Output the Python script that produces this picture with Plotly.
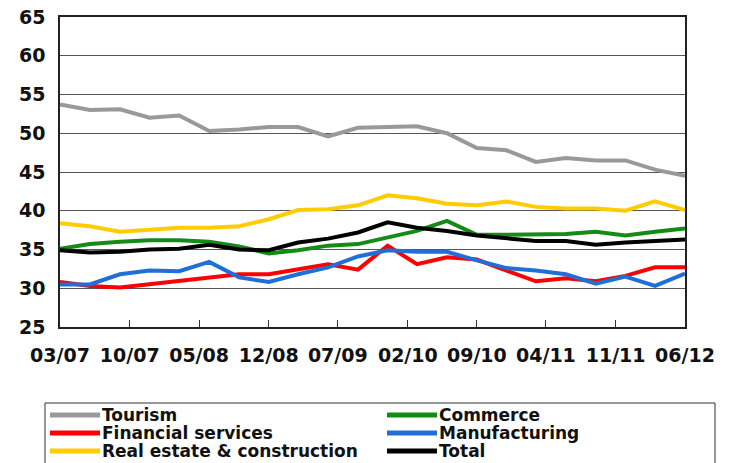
"""
Sector indicator chart, quarterly from 03/07 to 06/12.
"""

import pandas as pd
import plotly.graph_objects as go

dates = pd.date_range("2007-03-01", "2012-06-01", freq="3MS")

tourism = [53.7, 53.0, 53.1, 52.0, 52.3, 50.3, 50.5, 50.8, 50.8, 49.6, 50.7,
           50.8, 50.9, 50.0, 48.1, 47.8, 46.3, 46.8, 46.5, 46.5, 45.3, 44.5]
commerce = [35.1, 35.7, 36.0, 36.2, 36.2, 36.0, 35.4, 34.5, 34.9, 35.5, 35.7,
            36.6, 37.4, 38.7, 36.9, 36.9, 37.0, 37.0, 37.3, 36.8, 37.3, 37.7]
financial = [30.8, 30.3, 30.1, 30.5, 30.9, 31.4, 31.8, 31.8, 32.4, 33.1, 32.4,
             35.5, 33.1, 34.0, 33.7, 32.3, 30.9, 31.3, 30.9, 31.6, 32.7, 32.7]
manufacturing = [30.5, 30.5, 31.8, 32.3, 32.2, 33.4, 31.4, 30.8, 31.8, 32.7, 34.1,
                 34.9, 34.7, 34.7, 33.6, 32.6, 32.3, 31.8, 30.6, 31.5, 30.3, 31.9]
real_estate = [38.4, 38.0, 37.3, 37.6, 37.8, 37.8, 38.0, 38.9, 40.1, 40.2, 40.7,
               42.0, 41.6, 40.9, 40.7, 41.2, 40.5, 40.3, 40.3, 40.0, 41.2, 40.1]
total = [34.9, 34.6, 34.7, 35.0, 35.1, 35.6, 35.0, 34.9, 35.9, 36.4, 37.2,
         38.5, 37.8, 37.4, 36.8, 36.5, 36.1, 36.1, 35.6, 35.9, 36.1, 36.3]

tick_dates = ["2007-03-01", "2007-10-01", "2008-05-01", "2008-12-01", "2009-07-01",
              "2010-02-01", "2010-09-01", "2011-04-01", "2011-11-01", "2012-06-01"]
tick_labels = ["03/07", "10/07", "05/08", "12/08", "07/09",
               "02/10", "09/10", "04/11", "11/11", "06/12"]

series = [
    ("Tourism", tourism, "#999999"),
    ("Commerce", commerce, "#168a16"),
    ("Financial services", financial, "#ff0000"),
    ("Manufacturing", manufacturing, "#1f6fd6"),
    ("Real estate & construction", real_estate, "#ffcc00"),
    ("Total", total, "#000000"),
]

W, H = 731, 463
M = dict(l=60, r=46, t=17, b=136)
plot_w = W - M["l"] - M["r"]
plot_h = H - M["t"] - M["b"]


def px_x(p):
    # pixel column -> paper x
    return (p - M["l"]) / plot_w


def px_y(p):
    # pixel row -> paper y
    return (H - M["b"] - p) / plot_h


font_family = "DejaVu Sans"
text_color = "#111111"

fig = go.Figure()
for name, values, color in series:
    fig.add_trace(
        go.Scatter(
            x=dates,
            y=values,
            mode="lines",
            name=name,
            line=dict(color=color, width=4),
            showlegend=False
        )
    )

# legend drawn by hand: two columns, three rows, boxed
fig.add_shape(
    type="rect", xref="paper", yref="paper",
    x0=px_x(45), x1=px_x(715), y0=px_y(470), y1=px_y(403),
    line=dict(color="#333333", width=1), fillcolor="white"
)
col_x = [50, 387]
row_y = [415, 433, 451]
for i, (name, _, color) in enumerate(series):
    cx = col_x[i % 2]
    cy = row_y[i // 2]
    fig.add_shape(
        type="line", xref="paper", yref="paper",
        x0=px_x(cx), x1=px_x(cx + 50), y0=px_y(cy), y1=px_y(cy),
        line=dict(color=color, width=5)
    )
    fig.add_annotation(
        x=px_x(cx + 51), y=px_y(cy), xref="paper", yref="paper",
        text=name, showarrow=False, xanchor="left", yanchor="middle",
        borderpad=0,
        font=dict(family=font_family, size=17, color=text_color, weight="bold")
    )

fig.update_layout(
    width=W,
    height=H,
    margin=dict(**M, autoexpand=False),
    paper_bgcolor="white",
    plot_bgcolor="white",
    font=dict(family=font_family, color=text_color, size=17, weight="bold"),
)

fig.update_xaxes(
    range=["2007-03-01", "2012-06-01"],
    tickvals=tick_dates,
    ticktext=tick_labels,
    ticks="inside",
    ticklen=7,
    tickcolor="#333333",
    showgrid=False,
    showline=True,
    linecolor="#222222",
    linewidth=1.5,
    mirror=True,
    ticklabelstandoff=10,
    tickfont=dict(family=font_family, size=19, color=text_color, weight="bold"),
)

fig.update_yaxes(
    range=[25, 65],
    dtick=5,
    showgrid=True,
    gridcolor="#555555",
    gridwidth=1.2,
    showline=True,
    linecolor="#222222",
    linewidth=1.5,
    mirror=True,
    zeroline=False,
    ticks="",
    ticklabelstandoff=9,
    tickfont=dict(family=font_family, size=19, color=text_color, weight="bold"),
)

# the page's default body margin would push the figure 8px right and down
fig.write_html(
    "out.html",
    config={"displayModeBar": False},
    post_script="document.body.style.margin = '0';"
)
